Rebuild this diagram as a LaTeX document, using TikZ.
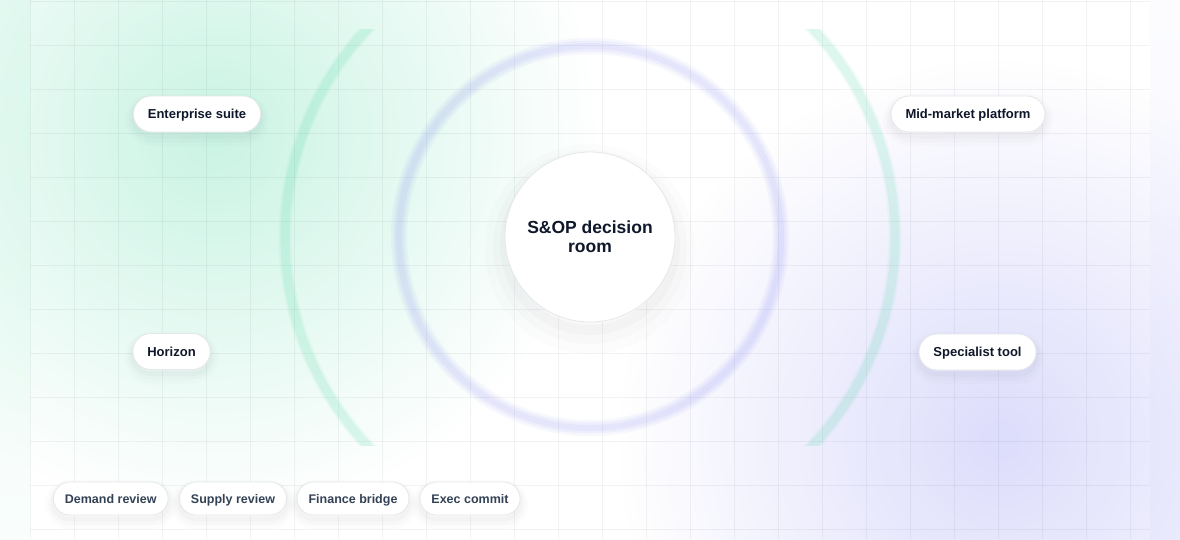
\documentclass[tikz,border=0pt]{standalone}
\usepackage{fontspec}
\setmainfont{Liberation Sans}
\usetikzlibrary{fadings}

\definecolor{inkdark}{HTML}{0F172A}
\definecolor{inkslate}{HTML}{334155}
\definecolor{mint}{HTML}{34D399}
\definecolor{lilac}{HTML}{6366F1}
\definecolor{pillline}{HTML}{E5E7EB}

\tikzfading[name=glowfade, inner color=transparent!0, outer color=transparent!100]

\begin{document}
\begin{tikzpicture}[x=1pt,y=-1pt,
  gridline/.style={inkdark, opacity=0.05, line width=0.8pt},
  softshade/.style={
    preaction={draw=inkdark, line width=16pt, opacity=0.012, transform canvas={yshift=-6pt}},
    preaction={draw=inkdark, line width=10pt, opacity=0.015, transform canvas={yshift=-5pt}},
    preaction={draw=inkdark, line width=5pt, opacity=0.02, transform canvas={yshift=-4pt}}},
  pill/.style={softshade, draw=pillline, line width=0.8pt, fill=white, rounded corners=18pt,
    minimum height=36pt, inner xsep=14.5pt, text=inkdark, text height=9.3pt, text depth=0pt,
    font=\fontsize{13}{15}\selectfont\bfseries},
  steppill/.style={pill, rounded corners=16.5pt, minimum height=33pt, inner xsep=11.5pt,
    text=inkslate, text height=9pt, font=\fontsize{12.5}{14}\selectfont\bfseries},
  hub/.style={circle, draw=pillline, line width=0.8pt, fill=white, minimum size=170pt,
    inner sep=0pt, align=center, text=inkdark,
    font=\fontsize{17.5}{19}\selectfont\bfseries,
    preaction={draw=inkdark, line width=40pt, opacity=0.012, transform canvas={yshift=-12pt}},
    preaction={draw=inkdark, line width=24pt, opacity=0.015, transform canvas={yshift=-10pt}},
    preaction={draw=inkdark, line width=10pt, opacity=0.02, transform canvas={yshift=-8pt}}}]

\useasboundingbox (0,0) rectangle (1180,539);

% backdrop
\shade[top color=mint!8, bottom color=mint!3] (0,0) rectangle (30,539);
\shade[top color=lilac!2, bottom color=lilac!6] (1150,0) rectangle (1180,539);
\fill[white] (30,0) rectangle (1150,539);
\fill[mint!26, path fading=glowfade] (215,135) circle (380);
\fill[lilac!22, path fading=glowfade] (1000,440) circle (380);

\foreach \gx in {30,74,...,1130}
  \draw[gridline] (\gx,0) -- (\gx,539);
\foreach \gy in {1,45,...,529}
  \draw[gridline] (30,\gy) -- (1150,\gy);

% outer arcs
\begin{scope}
\clip (0,29) rectangle (1180,445);
\draw[mint, opacity=0.06, line width=13pt] (590,237) circle (305);
\draw[mint, opacity=0.11, line width=9pt] (590,237) circle (305);
\end{scope}

% inner ring
\draw[lilac, opacity=0.05, line width=16pt] (590,237) circle (191);
\draw[lilac, opacity=0.06, line width=11pt] (590,237) circle (191);
\draw[lilac, opacity=0.06, line width=6pt] (590,237) circle (191);

\node[hub] (hub) at (590,237) {S\&OP decision\\room};

\node[pill] (ent) at (197,114) {Enterprise suite};
\node[pill] (midmkt) at (968,114) {Mid-market platform};
\node[pill] (horizon) at (171.5,351.5) {Horizon};
\node[pill] (spec) at (977.5,352) {Specialist tool};

\node[steppill] (demand) at (110.75,498.5) {Demand review};
\node[steppill] (supply) at (233,498.5) {Supply review};
\node[steppill] (finance) at (353,498.5) {Finance bridge};
\node[steppill] (execc) at (470,498.5) {Exec commit};
\end{tikzpicture}
\end{document}
